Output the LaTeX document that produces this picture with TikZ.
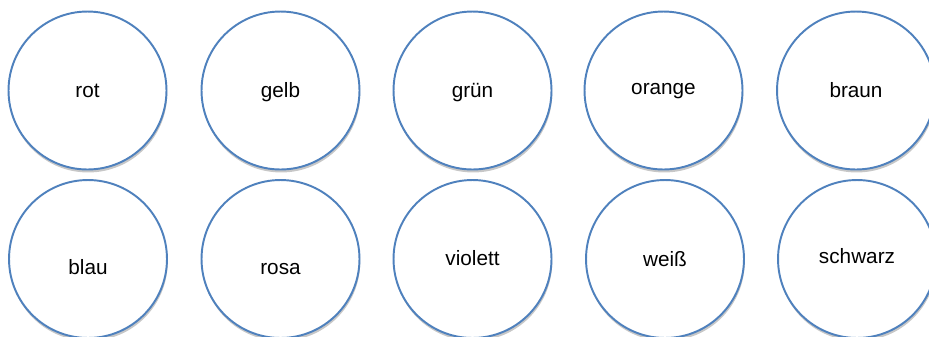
\documentclass[tikz,border=0pt]{standalone}
\usepackage{fontspec}
\setmainfont{Liberation Sans}
\usetikzlibrary{shadows}

\definecolor{ringblue}{RGB}{79,129,189}

\begin{document}
\begin{tikzpicture}[x=0.02cm,y=-0.02cm,
    disc/.style={circle,draw=ringblue,line width=1.1pt,fill=white,minimum size=3.16cm,inner sep=0pt,
        drop shadow={shadow xshift=0.4pt,shadow yshift=-1.7pt,fill=black!22,opacity=1}},
    every label/.style={font=\fontsize{11.8}{14}\selectfont,text=black,text height=8.5pt,text depth=0pt}]
        % Frame (circles at the right and bottom run off the edge)
        \useasboundingbox (0,0) rectangle (929,336);
        \clip (0,0) rectangle (929,336);

        % Upper row
        \node[disc,label={[yshift=0pt]center:rot}] (rot) at (87.5,90.5) {};
        \node[disc,label={[yshift=0pt]center:gelb}] (gelb) at (280.5,90.5) {};
        \node[disc,label={[yshift=0pt]center:grün}] (gruen) at (472.5,90.5) {};
        \node[disc,label={[yshift=1.7pt]center:orange}] (orange) at (663.5,90.5) {};
        \node[disc,label={[yshift=0.4pt]center:braun}] (braun) at (856,90.5) {};

        % Lower row
        \node[disc,label={[yshift=-4.8pt]center:blau}] (blau) at (88,259) {};
        \node[disc,label={[yshift=-4.8pt]center:rosa}] (rosa) at (280.5,259) {};
        \node[disc,label={[yshift=0.3pt]center:violett}] (violett) at (472.5,259) {};
        \node[disc,label={[yshift=0pt]center:weiß}] (weiss) at (665,259) {};
        \node[disc,label={[yshift=1.8pt]center:schwarz}] (schwarz) at (857,259) {};
    \end{tikzpicture}
\end{document}
